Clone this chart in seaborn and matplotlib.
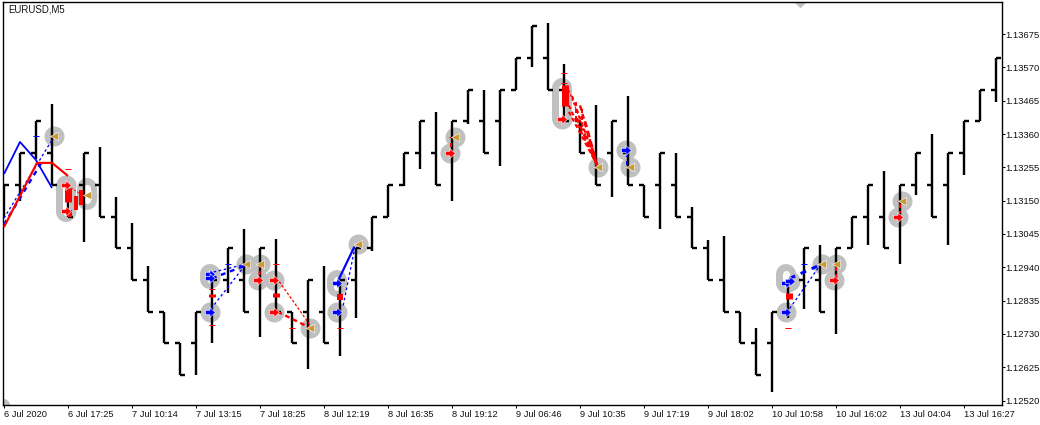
import pandas as pd
import seaborn as sns
import matplotlib.pyplot as plt
from matplotlib.path import Path

# ohlc bars, one every 16px on the chart
opens = [1.1310, 1.1320, 1.1330, 1.1330, 1.1320, 1.1320, 1.1320, 1.1310, 1.1300, 1.1290, 1.1280, 1.1270, 1.1270, 1.1280, 1.1290, 1.1290,
         1.1290, 1.1290, 1.1280, 1.1280, 1.1280, 1.1280, 1.1290, 1.1300, 1.1310, 1.1320, 1.1330, 1.1330, 1.1330, 1.1340, 1.1340, 1.1340,
         1.1350, 1.1360, 1.1360, 1.1350, 1.1340, 1.1330, 1.1330, 1.1330, 1.1320, 1.1320, 1.1320, 1.1310, 1.1300, 1.1290, 1.1280, 1.1270,
         1.1270, 1.1280, 1.1290, 1.1290, 1.1290, 1.1300, 1.1310, 1.1310, 1.1310, 1.1320, 1.1320, 1.1320, 1.1330, 1.1340, 1.1350]
highs = [1.1320, 1.1330, 1.1340, 1.13455, 1.1320, 1.1330, 1.1332, 1.1316, 1.1308, 1.12945, 1.1280, 1.1270, 1.1280, 1.1290, 1.1300, 1.1306,
         1.1300, 1.1303, 1.1280, 1.1290, 1.12945, 1.1290, 1.1300, 1.1310, 1.1320, 1.1330, 1.1340, 1.1343, 1.1340, 1.1350, 1.1350, 1.1350,
         1.1360, 1.1370, 1.1371, 1.1358, 1.1340, 1.1345, 1.1340, 1.1348, 1.1320, 1.1330, 1.1330, 1.1313, 1.13025, 1.1304, 1.1280, 1.1275,
         1.1280, 1.1290, 1.1300, 1.1301, 1.1300, 1.1310, 1.1320, 1.13245, 1.1320, 1.1330, 1.1336, 1.1330, 1.1340, 1.1350, 1.1360]
lows = [1.1310, 1.1315, 1.1328, 1.1320, 1.1310, 1.1302, 1.1310, 1.1300, 1.1290, 1.1280, 1.1270, 1.1260, 1.1260, 1.1270, 1.1286, 1.1280,
        1.1272, 1.1280, 1.1270, 1.1262, 1.1270, 1.1266, 1.1278, 1.1299, 1.1310, 1.13195, 1.1325, 1.1320, 1.1315, 1.1339, 1.1330, 1.1326,
        1.1350, 1.1357, 1.1350, 1.1340, 1.1330, 1.1320, 1.1316, 1.1320, 1.1310, 1.1306, 1.1310, 1.1300, 1.1290, 1.1280, 1.1270, 1.1260,
        1.12548, 1.1278, 1.12808, 1.1280, 1.1273, 1.1300, 1.1301, 1.1300, 1.1295, 1.13168, 1.1310, 1.1301, 1.1323, 1.1340, 1.1346]
closes = [1.1320, 1.1330, 1.1340, 1.1320, 1.1310, 1.1330, 1.1310, 1.1300, 1.1290, 1.1280, 1.1270, 1.1260, 1.1280, 1.1290, 1.1300, 1.1280,
          1.1300, 1.1280, 1.1270, 1.1290, 1.1270, 1.1290, 1.1300, 1.1310, 1.1320, 1.1330, 1.1340, 1.1320, 1.1340, 1.1350, 1.1330, 1.1350,
          1.1360, 1.1370, 1.1350, 1.1340, 1.1330, 1.1320, 1.1340, 1.1320, 1.1310, 1.1330, 1.1310, 1.1300, 1.1290, 1.1280, 1.1270, 1.1260,
          1.1280, 1.1290, 1.1300, 1.1280, 1.1300, 1.1310, 1.1320, 1.1300, 1.1320, 1.1330, 1.1310, 1.1330, 1.1340, 1.1350, 1.1360]

date_pos = [0, 4, 8, 12, 16, 20, 24, 28, 32, 36, 40, 44, 48, 52, 56, 60]
date_labels = ['6 Jul 2020', '6 Jul 17:25', '7 Jul 10:14', '7 Jul 13:15', '7 Jul 18:25', '8 Jul 12:19', '8 Jul 16:35', '8 Jul 19:12',
               '9 Jul 06:46', '9 Jul 10:35', '9 Jul 17:19', '9 Jul 18:02', '10 Jul 10:58', '10 Jul 16:02', '13 Jul 04:04', '13 Jul 16:27']
price_ticks = [1.13675, 1.13570, 1.13465, 1.13360, 1.13255, 1.13150, 1.13045, 1.12940, 1.12835, 1.12730, 1.12625, 1.12520]

# exits (gold triangles) and entries (arrows)
gold_x = [3.12, 5.19, 15.12, 16.0, 19.12, 22.12, 28.19, 37.12, 39.12, 51.12, 52.0, 56.12]
gold_y = [1.13354, 1.13168, 1.1295, 1.1295, 1.1275, 1.13013, 1.13351, 1.13256, 1.13256, 1.1295, 1.1295, 1.1315]
red_x = [3.88, 3.88, 15.88, 16.88, 16.88, 27.88, 34.88, 51.88, 55.88]
red_y = [1.1320, 1.13117, 1.1290, 1.1290, 1.1280, 1.1330, 1.13407, 1.1290, 1.1310]
blue_x = [12.88, 12.88, 12.88, 20.81, 20.81, 38.88, 48.88, 48.88, 49.1]
blue_y = [1.1280, 1.1292, 1.12906, 1.1289, 1.1280, 1.1331, 1.1280, 1.1289, 1.12897]

# merged rings around neighbouring signals
pill_x = [3.88, 5.19, 12.88, 20.81, 34.88, 48.88]
pill_top = [1.13196, 1.13190, 1.1292, 1.1290, 1.13505, 1.1292]
pill_bottom = [1.13114, 1.13152, 1.12903, 1.12878, 1.1341, 1.1289]

# red bodies
body_x = [4.0, 4.47, 4.84, 4.12, 13.03, 17.03, 21.0, 35.03, 49.03]
body_top = [1.13190, 1.13165, 1.13184, 1.13121, 1.12856, 1.12859, 1.12856, 1.13514, 1.12859]
body_bottom = [1.13146, 1.13121, 1.13136, 1.13099, 1.12847, 1.12847, 1.12837, 1.13448, 1.12840]
body_width = [7, 4, 4, 4, 7, 7, 6, 7, 7]

# small level dashes
dash_x = [2, 4, 13, 13, 14, 16, 17, 18, 21, 28, 35, 35, 49, 50, 52, 56]
dash_y = [1.13354, 1.13250, 1.12872, 1.12758, 1.1295, 1.1295, 1.1295, 1.1275, 1.1275, 1.13351, 1.13552, 1.1352, 1.1275, 1.1295, 1.1295, 1.1315]
dash_c = ['b', 'r', 'r', 'r', 'b', 'r', 'r', 'r', 'r', 'r', 'r', 'r', 'r', 'b', 'r', 'r']

# solid trend lines
blue_line_x = [0, 1, 2, 3]
blue_line_y = [1.13234, 1.13335, 1.13278, 1.13190]
red_line_x = [0, 2.06, 3, 4]
red_line_y = [1.13067, 1.13269, 1.13269, 1.13228]
blue_run_x = [20.9, 21.9]
blue_run_y = [1.1290, 1.13005]

# trade links: x0, y0, x1, y1, width
blue_links = [(0, 1.13095, 3.12, 1.13351, 1.3), (0, 1.13075, 2.4, 1.13275, 2.4), (12.95, 1.1281, 15.12, 1.1295, 1.3), (13.1, 1.12925, 15.12, 1.1295, 1.3),
              (13.0, 1.12905, 15.05, 1.12945, 2.4), (21.2, 1.1282, 21.9, 1.12995, 1.3),
              (38.95, 1.1330, 38.95, 1.1326, 2), (49.1, 1.1281, 51.05, 1.1295, 1.3), (49.1, 1.12905, 50.9, 1.12945, 3)]
red_links = [(4.2, 1.1319, 4.8, 1.1317, 1), (16.0, 1.1295, 15.95, 1.1290, 2), (17.2, 1.12895, 19.1, 1.1276, 1.3), (17.1, 1.1280, 19.1, 1.1275, 2.4),
             (27.95, 1.1332, 27.95, 1.1334, 2), (35.2, 1.13512, 37.06, 1.13262, 1.3), (35.3, 1.1345, 37.06, 1.13262, 2), (35.3, 1.13430, 37.06, 1.13262, 2),
             (35.5, 1.13480, 37.06, 1.13262, 2), (35.8, 1.1341, 37.06, 1.13262, 2.5), (36.0, 1.1345, 37.06, 1.13262, 2.5), (36.3, 1.1340, 37.06, 1.13262, 3),
             (35.75, 1.1346, 35.75, 1.1340, 2), (36.1, 1.1344, 36.1, 1.1338, 2), (52.0, 1.1294, 52.0, 1.1291, 2), (56.0, 1.1314, 56.0, 1.1311, 2)]

px = 72 / 100  # one pixel in points


def draw_line(ax, xs, ys, color, width, style='-', zorder=3):
    sns.lineplot(x=xs, y=ys, color=color, linewidth=width * px, linestyle=style, estimator=None, sort=False,
                 errorbar=None, legend=False, ax=ax, zorder=zorder, solid_capstyle='butt')


sns.set_style('white')
plt.rcParams['font.family'] = ['Liberation Sans', 'DejaVu Sans']

fig = plt.figure(figsize=(10.4, 4.25), dpi=100, facecolor='white')
ax = fig.add_axes([3 / 1040, 1 - 404.7 / 425, 998.5 / 1040, 402.7 / 425])

# grey halos go under the price bars
for x, top, bottom in zip(pill_x, pill_top, pill_bottom):
    ax.plot([x, x], [top, bottom], color='#c0c0c0', lw=20 * px, solid_capstyle='round', zorder=1)
    ax.plot([x, x], [top, bottom], color='white', lw=7 * px, solid_capstyle='round', zorder=1.1)
halo_x = gold_x + red_x + blue_x
halo_y = gold_y + red_y + blue_y
sns.scatterplot(x=halo_x, y=halo_y, s=(20 * px) ** 2, color='#c0c0c0', linewidth=0, ax=ax, zorder=0.9, legend=False)

# price bars as long table, one unit for each stroke
rows = []
for i, (o, h, l, c) in enumerate(zip(opens, highs, lows, closes)):
    rows.append(dict(unit=f'{i}h', x=i, y=h))
    rows.append(dict(unit=f'{i}h', x=i, y=l))
    rows.append(dict(unit=f'{i}o', x=i - 0.33, y=o))
    rows.append(dict(unit=f'{i}o', x=i, y=o))
    rows.append(dict(unit=f'{i}c', x=i, y=c))
    rows.append(dict(unit=f'{i}c', x=i + 0.33, y=c))
bars = pd.DataFrame(rows)
sns.lineplot(data=bars, x='x', y='y', units='unit', estimator=None, sort=False, color='black', linewidth=2.4 * px,
             legend=False, ax=ax, zorder=2, solid_capstyle='butt')

draw_line(ax, blue_line_x, blue_line_y, '#0000ff', 1.8)
draw_line(ax, red_line_x, red_line_y, '#ff0000', 2.2, zorder=3.1)
draw_line(ax, blue_run_x, blue_run_y, '#0000ff', 2.2)

for x0, y0, x1, y1, w in blue_links:
    draw_line(ax, [x0, x1], [y0, y1], '#0000ff', w, style=(0, (2, 2)))
for x0, y0, x1, y1, w in red_links:
    draw_line(ax, [x0, x1], [y0, y1], '#ff0000', w, style=(0, (2, 1.5)))

for x, top, bottom, w in zip(body_x, body_top, body_bottom, body_width):
    draw_line(ax, [x, x], [top, bottom], '#ff0000', w, zorder=3.5)
for x, y, c in zip(dash_x, dash_y, dash_c):
    draw_line(ax, [x - 0.2, x + 0.2], [y, y], {'r': '#ff0000', 'b': '#0000ff'}[c], 1, zorder=3.5)

arrow = Path([(-1, -0.45), (-0.1, -0.45), (-0.1, -1), (1, 0), (-0.1, 1), (-0.1, 0.45), (-1, 0.45), (-1, -0.45)], closed=True)
sns.scatterplot(x=red_x, y=red_y, marker=arrow, s=50, color='#ff0000', edgecolor='white', linewidth=0.4, ax=ax, zorder=4, legend=False)
sns.scatterplot(x=blue_x, y=blue_y, marker=arrow, s=50, color='#0000ff', edgecolor='white', linewidth=0.4, ax=ax, zorder=4, legend=False)
sns.scatterplot(x=gold_x, y=gold_y, marker='<', s=36, color='#c99a33', edgecolor='white', linewidth=0.4, ax=ax, zorder=4, legend=False)

# clipped markers on the chart edges
sns.scatterplot(x=[49.75], y=[1.13778], marker='D', s=48, color='#c0c0c0', linewidth=0, ax=ax, zorder=1, legend=False)
sns.scatterplot(x=[-0.05], y=[1.12505], s=90, color='#c0c0c0', linewidth=0, ax=ax, zorder=1, legend=False)

ax.set_xlim(-0.0625, 62.34)
ax.set_ylim(1.12507, 1.13776)
ax.set_xticks(date_pos)
ax.set_xticklabels(date_labels, ha='left')
ax.yaxis.tick_right()
ax.set_yticks(price_ticks)
ax.set_yticklabels([f'{p:.5f}' for p in price_ticks])
ax.tick_params(axis='x', length=2.2, width=0.75, color='black', labelsize=6.7, labelcolor='#111111', pad=1.5, bottom=True)
ax.tick_params(axis='y', length=2.2, width=0.75, color='black', labelsize=6.8, labelcolor='#111111', pad=0.2, right=True)
ax.set_xlabel('')
ax.set_ylabel('')
for s in ax.spines.values():
    s.set_color('black')
    s.set_linewidth(1.0)
ax.text(8 / 1040, 1 - 10 / 425, 'EURUSD,M5', transform=fig.transFigure, fontsize=6.9, color='#111111', va='center', ha='left')

fig.savefig('out.png', dpi=100)
